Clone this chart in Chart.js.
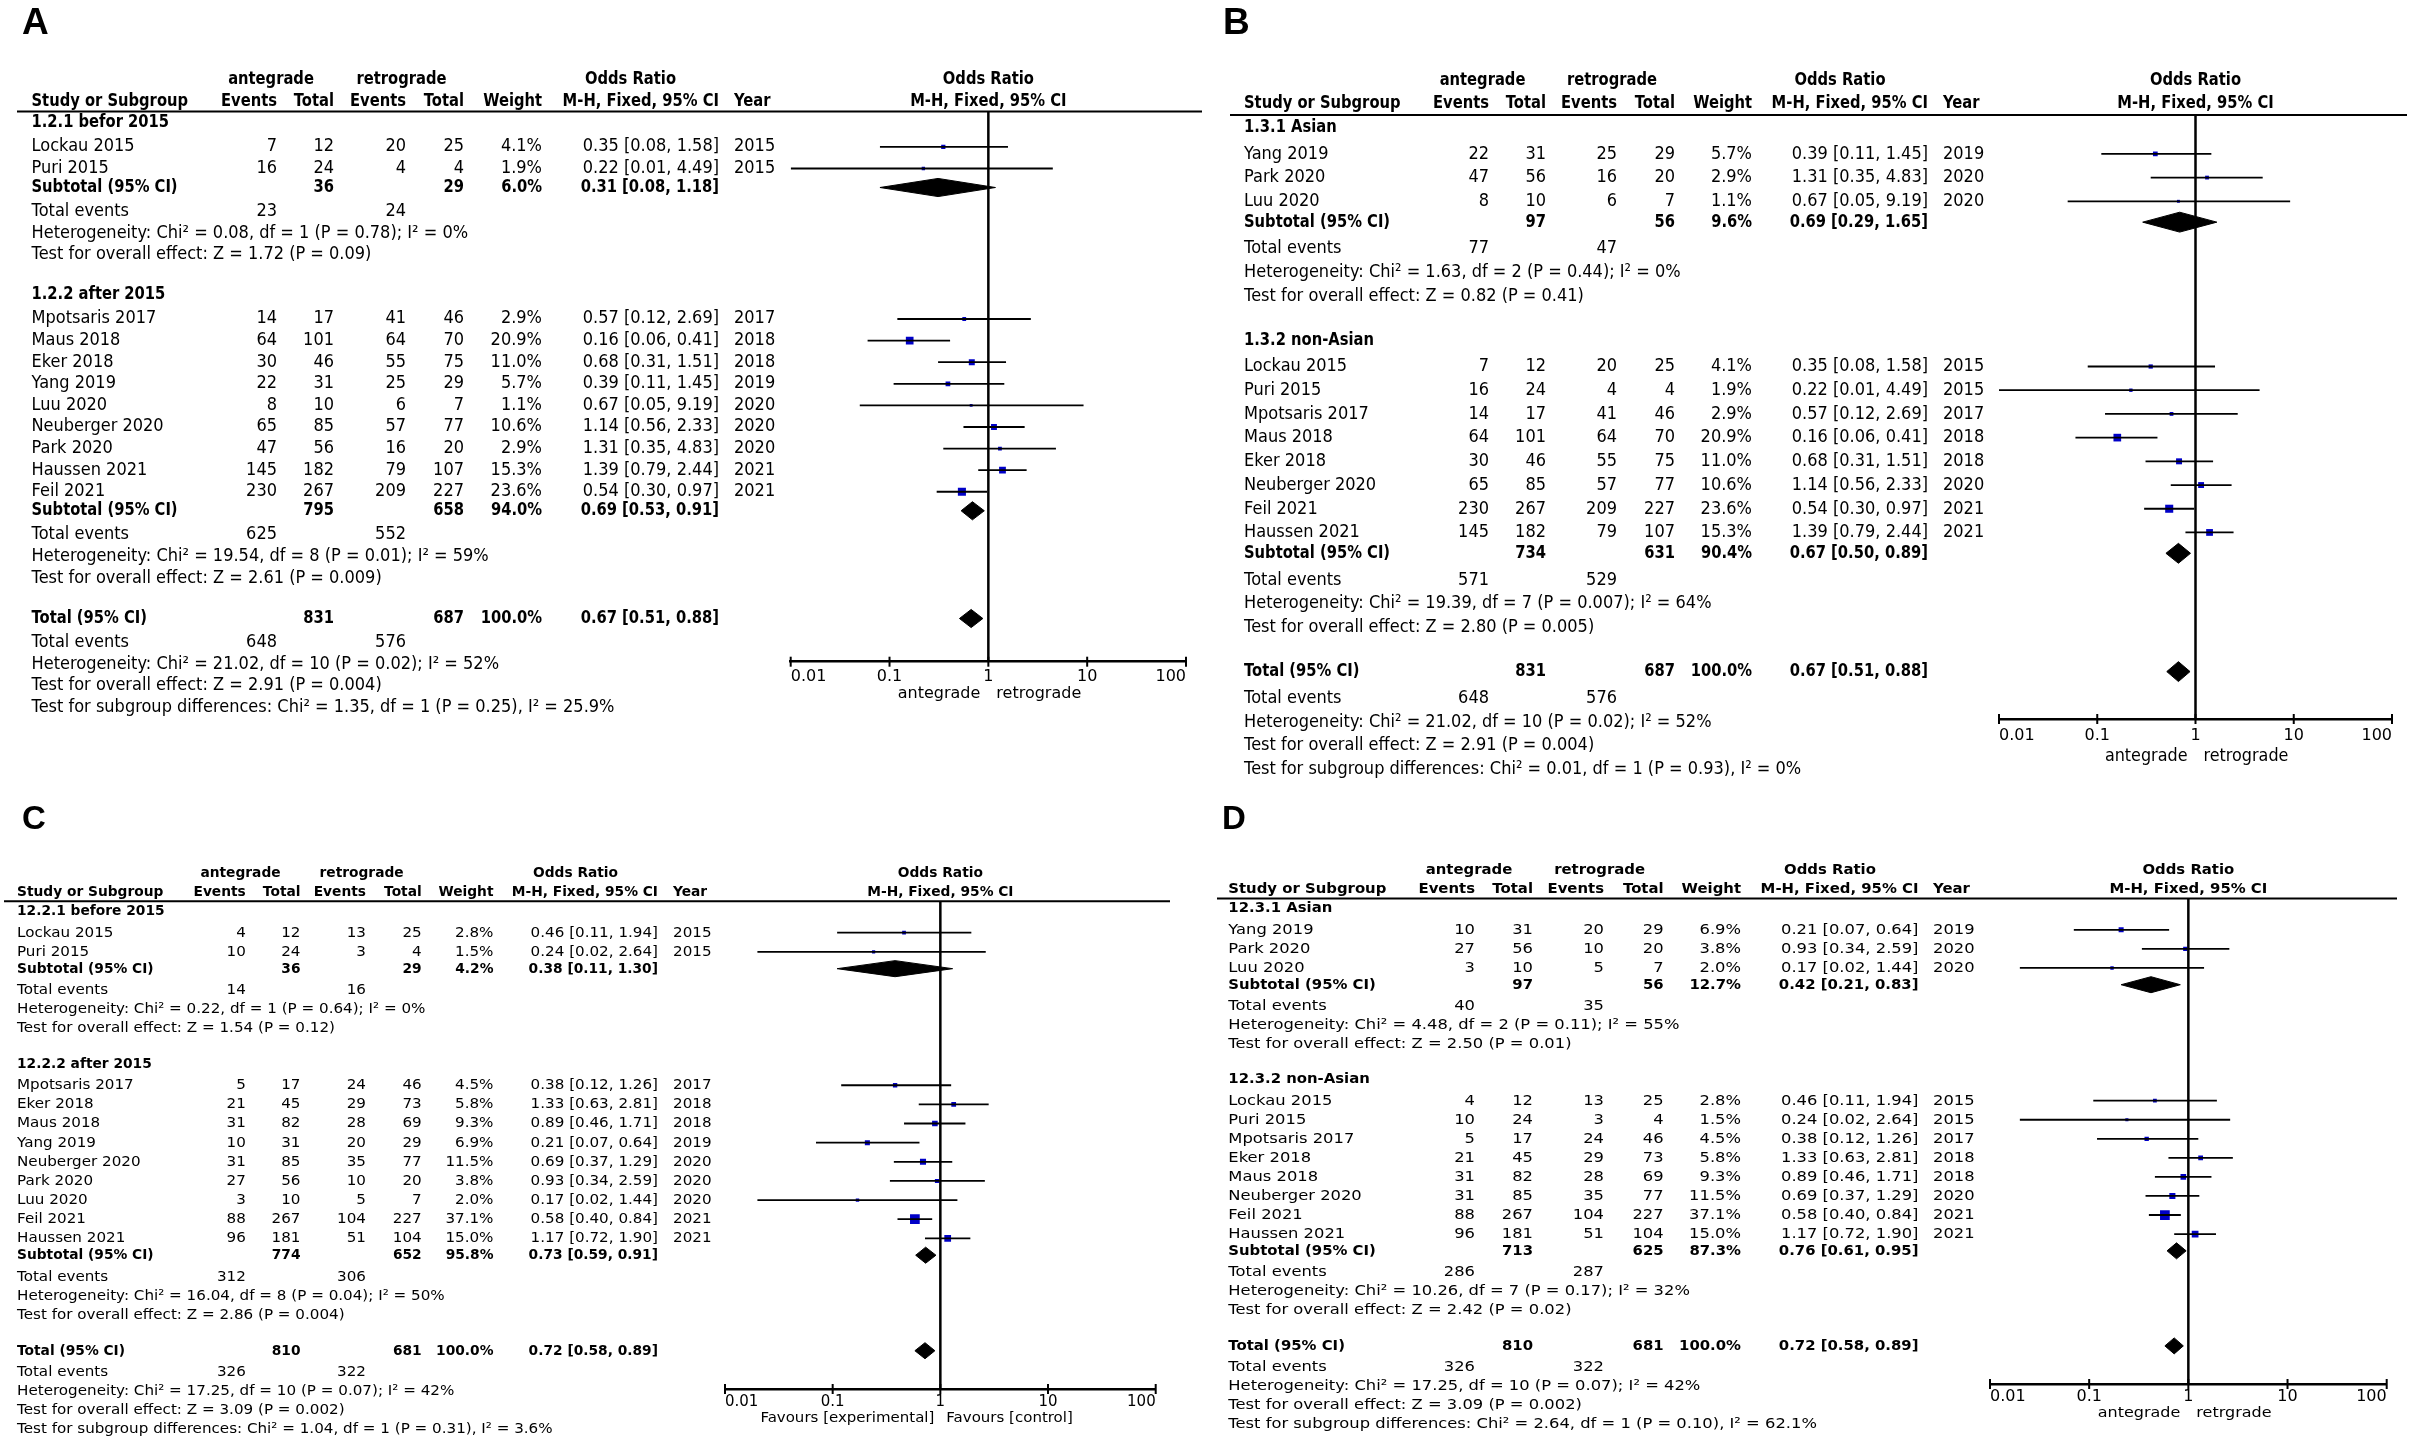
<!DOCTYPE html>
<html>
<head>
<meta charset="utf-8">
<title>Forest plots A-D</title>
<script src="https://cdn.jsdelivr.net/npm/chart.js@4.4.1/dist/chart.umd.min.js"></script>
<style>
  html, body { margin: 0; padding: 0; background: #fff; }
  body { width: 2410px; height: 1441px; position: relative; overflow: hidden; }
  canvas { position: absolute; }
</style>
</head>
<body>
<canvas id="panelA"></canvas>
<canvas id="panelB"></canvas>
<canvas id="panelC"></canvas>
<canvas id="panelD"></canvas>
<script>
// shared axis ticks and column headings
const xTicks = [0.01, 0.1, 1, 10, 100];
const headRow1 = ['antegrade', 'retrograde', 'Odds Ratio'];
const headRow2 = ['Study or Subgroup', 'Events', 'Total', 'Events', 'Total', 'Weight', 'M-H, Fixed, 95% CI', 'Year'];

// ---- A: before / after 2015 ----
const groupsA = ['1.2.1 befor 2015', '1.2.2 after 2015'];
const groupSizeA = [2, 9];
const studiesA = ['Lockau 2015', 'Puri 2015', 'Mpotsaris 2017', 'Maus 2018', 'Eker 2018', 'Yang 2019', 'Luu 2020', 'Neuberger 2020', 'Park 2020', 'Haussen 2021', 'Feil 2021'];
const expEventsA = [7, 16, 14, 64, 30, 22, 8, 65, 47, 145, 230];
const expTotalA = [12, 24, 17, 101, 46, 31, 10, 85, 56, 182, 267];
const ctlEventsA = [20, 4, 41, 64, 55, 25, 6, 57, 16, 79, 209];
const ctlTotalA = [25, 4, 46, 70, 75, 29, 7, 77, 20, 107, 227];
const weightA = [4.1, 1.9, 2.9, 20.9, 11.0, 5.7, 1.1, 10.6, 2.9, 15.3, 23.6];
const orA = [0.35, 0.22, 0.57, 0.16, 0.68, 0.39, 0.67, 1.14, 1.31, 1.39, 0.54];
const lowA = [0.08, 0.01, 0.12, 0.06, 0.31, 0.11, 0.05, 0.56, 0.35, 0.79, 0.30];
const highA = [1.58, 4.49, 2.69, 0.41, 1.51, 1.45, 9.19, 2.33, 4.83, 2.44, 0.97];
const yearA = [2015, 2015, 2017, 2018, 2018, 2019, 2020, 2020, 2020, 2021, 2021];
const subExpTotalA = [36, 795];
const subCtlTotalA = [29, 658];
const subWeightA = [6.0, 94.0];
const subOrA = [0.31, 0.69];
const subLowA = [0.08, 0.53];
const subHighA = [1.18, 0.91];
const subExpEventsA = [23, 625];
const subCtlEventsA = [24, 552];
const subHetA = ['Heterogeneity: Chi² = 0.08, df = 1 (P = 0.78); I² = 0%', 'Heterogeneity: Chi² = 19.54, df = 8 (P = 0.01); I² = 59%'];
const subTestA = ['Test for overall effect: Z = 1.72 (P = 0.09)', 'Test for overall effect: Z = 2.61 (P = 0.009)'];
const totalNA = [831, 687];
const totalWeightA = 100.0;
const totalEstA = [0.67, 0.51, 0.88];
const totalEventsA = [648, 576];
const totalNotesA = ['Heterogeneity: Chi² = 21.02, df = 10 (P = 0.02); I² = 52%', 'Test for overall effect: Z = 2.91 (P = 0.004)', 'Test for subgroup differences: Chi² = 1.35, df = 1 (P = 0.25), I² = 25.9%'];
const favoursA = ['antegrade', 'retrograde'];

// ---- B: Asian / non-Asian ----
const groupsB = ['1.3.1 Asian', '1.3.2 non-Asian'];
const groupSizeB = [3, 8];
const studiesB = ['Yang 2019', 'Park 2020', 'Luu 2020', 'Lockau 2015', 'Puri 2015', 'Mpotsaris 2017', 'Maus 2018', 'Eker 2018', 'Neuberger 2020', 'Feil 2021', 'Haussen 2021'];
const expEventsB = [22, 47, 8, 7, 16, 14, 64, 30, 65, 230, 145];
const expTotalB = [31, 56, 10, 12, 24, 17, 101, 46, 85, 267, 182];
const ctlEventsB = [25, 16, 6, 20, 4, 41, 64, 55, 57, 209, 79];
const ctlTotalB = [29, 20, 7, 25, 4, 46, 70, 75, 77, 227, 107];
const weightB = [5.7, 2.9, 1.1, 4.1, 1.9, 2.9, 20.9, 11.0, 10.6, 23.6, 15.3];
const orB = [0.39, 1.31, 0.67, 0.35, 0.22, 0.57, 0.16, 0.68, 1.14, 0.54, 1.39];
const lowB = [0.11, 0.35, 0.05, 0.08, 0.01, 0.12, 0.06, 0.31, 0.56, 0.30, 0.79];
const highB = [1.45, 4.83, 9.19, 1.58, 4.49, 2.69, 0.41, 1.51, 2.33, 0.97, 2.44];
const yearB = [2019, 2020, 2020, 2015, 2015, 2017, 2018, 2018, 2020, 2021, 2021];
const subExpTotalB = [97, 734];
const subCtlTotalB = [56, 631];
const subWeightB = [9.6, 90.4];
const subOrB = [0.69, 0.67];
const subLowB = [0.29, 0.50];
const subHighB = [1.65, 0.89];
const subExpEventsB = [77, 571];
const subCtlEventsB = [47, 529];
const subHetB = ['Heterogeneity: Chi² = 1.63, df = 2 (P = 0.44); I² = 0%', 'Heterogeneity: Chi² = 19.39, df = 7 (P = 0.007); I² = 64%'];
const subTestB = ['Test for overall effect: Z = 0.82 (P = 0.41)', 'Test for overall effect: Z = 2.80 (P = 0.005)'];
const totalNB = [831, 687];
const totalWeightB = 100.0;
const totalEstB = [0.67, 0.51, 0.88];
const totalEventsB = [648, 576];
const totalNotesB = ['Heterogeneity: Chi² = 21.02, df = 10 (P = 0.02); I² = 52%', 'Test for overall effect: Z = 2.91 (P = 0.004)', 'Test for subgroup differences: Chi² = 0.01, df = 1 (P = 0.93), I² = 0%'];
const favoursB = ['antegrade', 'retrograde'];

// ---- C: before / after 2015 (12.2) ----
const groupsC = ['12.2.1 before 2015', '12.2.2 after 2015'];
const groupSizeC = [2, 9];
const studiesC = ['Lockau 2015', 'Puri 2015', 'Mpotsaris 2017', 'Eker 2018', 'Maus 2018', 'Yang 2019', 'Neuberger 2020', 'Park 2020', 'Luu 2020', 'Feil 2021', 'Haussen 2021'];
const expEventsC = [4, 10, 5, 21, 31, 10, 31, 27, 3, 88, 96];
const expTotalC = [12, 24, 17, 45, 82, 31, 85, 56, 10, 267, 181];
const ctlEventsC = [13, 3, 24, 29, 28, 20, 35, 10, 5, 104, 51];
const ctlTotalC = [25, 4, 46, 73, 69, 29, 77, 20, 7, 227, 104];
const weightC = [2.8, 1.5, 4.5, 5.8, 9.3, 6.9, 11.5, 3.8, 2.0, 37.1, 15.0];
const orC = [0.46, 0.24, 0.38, 1.33, 0.89, 0.21, 0.69, 0.93, 0.17, 0.58, 1.17];
const lowC = [0.11, 0.02, 0.12, 0.63, 0.46, 0.07, 0.37, 0.34, 0.02, 0.40, 0.72];
const highC = [1.94, 2.64, 1.26, 2.81, 1.71, 0.64, 1.29, 2.59, 1.44, 0.84, 1.90];
const yearC = [2015, 2015, 2017, 2018, 2018, 2019, 2020, 2020, 2020, 2021, 2021];
const subExpTotalC = [36, 774];
const subCtlTotalC = [29, 652];
const subWeightC = [4.2, 95.8];
const subOrC = [0.38, 0.73];
const subLowC = [0.11, 0.59];
const subHighC = [1.30, 0.91];
const subExpEventsC = [14, 312];
const subCtlEventsC = [16, 306];
const subHetC = ['Heterogeneity: Chi² = 0.22, df = 1 (P = 0.64); I² = 0%', 'Heterogeneity: Chi² = 16.04, df = 8 (P = 0.04); I² = 50%'];
const subTestC = ['Test for overall effect: Z = 1.54 (P = 0.12)', 'Test for overall effect: Z = 2.86 (P = 0.004)'];
const totalNC = [810, 681];
const totalWeightC = 100.0;
const totalEstC = [0.72, 0.58, 0.89];
const totalEventsC = [326, 322];
const totalNotesC = ['Heterogeneity: Chi² = 17.25, df = 10 (P = 0.07); I² = 42%', 'Test for overall effect: Z = 3.09 (P = 0.002)', 'Test for subgroup differences: Chi² = 1.04, df = 1 (P = 0.31), I² = 3.6%'];
const favoursC = ['Favours [experimental]', 'Favours [control]'];

// ---- D: Asian / non-Asian (12.3) ----
const groupsD = ['12.3.1 Asian', '12.3.2 non-Asian'];
const groupSizeD = [3, 8];
const studiesD = ['Yang 2019', 'Park 2020', 'Luu 2020', 'Lockau 2015', 'Puri 2015', 'Mpotsaris 2017', 'Eker 2018', 'Maus 2018', 'Neuberger 2020', 'Feil 2021', 'Haussen 2021'];
const expEventsD = [10, 27, 3, 4, 10, 5, 21, 31, 31, 88, 96];
const expTotalD = [31, 56, 10, 12, 24, 17, 45, 82, 85, 267, 181];
const ctlEventsD = [20, 10, 5, 13, 3, 24, 29, 28, 35, 104, 51];
const ctlTotalD = [29, 20, 7, 25, 4, 46, 73, 69, 77, 227, 104];
const weightD = [6.9, 3.8, 2.0, 2.8, 1.5, 4.5, 5.8, 9.3, 11.5, 37.1, 15.0];
const orD = [0.21, 0.93, 0.17, 0.46, 0.24, 0.38, 1.33, 0.89, 0.69, 0.58, 1.17];
const lowD = [0.07, 0.34, 0.02, 0.11, 0.02, 0.12, 0.63, 0.46, 0.37, 0.40, 0.72];
const highD = [0.64, 2.59, 1.44, 1.94, 2.64, 1.26, 2.81, 1.71, 1.29, 0.84, 1.90];
const yearD = [2019, 2020, 2020, 2015, 2015, 2017, 2018, 2018, 2020, 2021, 2021];
const subExpTotalD = [97, 713];
const subCtlTotalD = [56, 625];
const subWeightD = [12.7, 87.3];
const subOrD = [0.42, 0.76];
const subLowD = [0.21, 0.61];
const subHighD = [0.83, 0.95];
const subExpEventsD = [40, 286];
const subCtlEventsD = [35, 287];
const subHetD = ['Heterogeneity: Chi² = 4.48, df = 2 (P = 0.11); I² = 55%', 'Heterogeneity: Chi² = 10.26, df = 7 (P = 0.17); I² = 32%'];
const subTestD = ['Test for overall effect: Z = 2.50 (P = 0.01)', 'Test for overall effect: Z = 2.42 (P = 0.02)'];
const totalND = [810, 681];
const totalWeightD = 100.0;
const totalEstD = [0.72, 0.58, 0.89];
const totalEventsD = [326, 322];
const totalNotesD = ['Heterogeneity: Chi² = 17.25, df = 10 (P = 0.07); I² = 42%', 'Test for overall effect: Z = 3.09 (P = 0.002)', 'Test for subgroup differences: Chi² = 2.64, df = 1 (P = 0.10), I² = 62.1%'];
const favoursD = ['antegrade', 'retrgrade'];

// page placement of each panel (pixels), kept apart from the data
const layoutA = { id: 'panelA', letter: 'A', box: [0, 0, 1205, 730], letterAt: [22, 34, 37], headY: 111.5, axisY: 661.7, line: [17, 1202], plot: [790.7, 1186], font: 16.2, sy: 1.04, tickFont: 16, tickPad: 6, titleDy: 32, titleGap: 8, cols: [31.5, 277, 334, 406, 464, 542, 719, 734], heads: [271, 401.5, 630.5] };
const layoutB = { id: 'panelB', letter: 'B', box: [1205, 0, 1205, 790], letterAt: [1223, 34, 37], headY: 115, axisY: 719, line: [1230, 2407], plot: [1999, 2392], font: 16.2, sy: 1.14, tickFont: 16, tickPad: 7.5, titleDy: 37, titleGap: 8, cols: [1244, 1489, 1546, 1617, 1675, 1752, 1928, 1943], heads: [1482.5, 1612, 1840] };
const layoutC = { id: 'panelC', letter: 'C', box: [0, 790, 1205, 651], letterAt: [22, 829, 33], headY: 901.3, axisY: 1389, line: [4, 1170], plot: [725, 1155.7], font: 15.15, sy: 0.985, tickFont: 15, tickPad: 4, titleDy: 29, titleGap: 6, cols: [17, 245.8, 300.5, 366, 421.7, 493.5, 658, 673], heads: [240.5, 361.6, 575.5] };
const layoutD = { id: 'panelD', letter: 'D', box: [1205, 790, 1205, 651], letterAt: [1222, 829, 33], headY: 898.6, axisY: 1384, line: [1217, 2397], plot: [1990, 2386.7], font: 16.35, sy: 0.91, tickFont: 16, tickPad: 3.5, titleDy: 29, titleGap: 8, cols: [1228.3, 1475, 1533, 1604, 1663.6, 1741, 1918.5, 1933], heads: [1469, 1599.6, 1830] };

const AXIS_H = 40;
const BOLD_SQUEEZE = 0.91;
const BLUE = '#0000c8';

// row positions in "row units" below the header rule (RevMan style spacing)
function rowLayout(sizes) {
    const r = { groups: [], studies: [], subs: [], subEvents: [], subHet: [], subTest: [] };
    let y = 0;
    sizes.forEach(function(n, g) {
        y += g === 0 ? 0.52 : 1.85;
        r.groups.push(y);
        for (let i = 0; i < n; i++) {
            y += i === 0 ? 1.12 : 1;
            r.studies.push(y);
        }
        y += 0.88; r.subs.push(y);
        y += 1.12; r.subEvents.push(y);
        y += 1; r.subHet.push(y);
        y += 1; r.subTest.push(y);
    });
    r.total = y + 1.87;
    r.totalEvents = r.total + 1.12;
    r.notes = [r.totalEvents + 1, r.totalEvents + 2, r.totalEvents + 3];
    r.axis = r.total + 2.0;
    return r;
}

function ciText(o, l, h) {
    return o.toFixed(2) + ' [' + l.toFixed(2) + ', ' + h.toFixed(2) + ']';
}

function drawText(ctx, s, x, y, align, bold, size, sy) {
    ctx.save();
    ctx.translate(x, y);
    ctx.scale(bold ? BOLD_SQUEEZE : 1, sy);
    ctx.font = (bold ? 'bold ' : '') + size + 'px "DejaVu Sans"';
    ctx.textAlign = align;
    ctx.textBaseline = 'middle';
    ctx.fillStyle = '#000';
    ctx.fillText(s, 0, 0);
    ctx.restore();
}

function buildDatasets(d, r) {
    const sets = [];
    // line of no effect
    sets.push({ data: [{ x: 1, y: 0 }, { x: 1, y: r.axis }], showLine: true, borderColor: '#000', borderWidth: 2.5, pointRadius: 0 });
    // confidence intervals
    d.or.forEach(function(v, i) {
        sets.push({ data: [{ x: d.low[i], y: r.studies[i] }, { x: d.high[i], y: r.studies[i] }], showLine: true, borderColor: '#000', borderWidth: 1.8, pointRadius: 0 });
    });
    // squares, sized by weight
    sets.push({
        data: d.or.map(function(v, i) { return { x: v, y: r.studies[i] }; }),
        pointStyle: 'rect',
        pointRadius: d.weight.map(function(w) { return (1.5 + 1.35 * Math.sqrt(w)) / Math.SQRT2; }),
        pointBackgroundColor: BLUE, pointBorderWidth: 0
    });
    // diamonds for subtotals and total
    const diamonds = d.subOr.map(function(v, g) { return [v, d.subLow[g], d.subHigh[g], r.subs[g]]; });
    diamonds.push([d.totalEst[0], d.totalEst[1], d.totalEst[2], r.total]);
    diamonds.forEach(function(m) {
        const y = m[3];
        sets.push({
            data: [{ x: m[1], y: y }, { x: m[0], y: y - 0.42 }, { x: m[2], y: y }, { x: m[0], y: y + 0.42 }, { x: m[1], y: y }],
            showLine: true, fill: 'shape', backgroundColor: '#000', borderColor: '#000', borderWidth: 1, pointRadius: 0
        });
    });
    // tick marks crossing the axis line
    sets.push({
        data: xTicks.map(function(v) { return { x: v, y: r.axis }; }),
        pointStyle: 'line', pointRotation: 90, pointRadius: 5,
        pointBorderColor: '#000', pointBorderWidth: 2, clip: false
    });
    return sets;
}

function tablePlugin(L, d, r) {
    return {
        id: 'table' + L.letter,
        afterDraw: function(chart) {
            const ctx = chart.ctx;
            const ys = chart.scales.y;
            const xs = chart.scales.x;
            const ox = L.box[0], oy = L.box[1];
            const c = L.cols.map(function(v) { return v - ox; });
            const h = L.heads.map(function(v) { return v - ox; });
            const Y = function(v) { return ys.getPixelForValue(v); };
            const one = xs.getPixelForValue(1);
            const put = function(s, x, y, align, bold) { drawText(ctx, String(s), x, Y(y), align, bold, L.font, L.sy); };

            // panel letter
            ctx.save();
            ctx.font = 'bold ' + L.letterAt[2] + 'px "Liberation Sans"';
            ctx.fillStyle = '#000';
            ctx.textBaseline = 'alphabetic';
            ctx.fillText(L.letter, L.letterAt[0] - ox, L.letterAt[1] - oy);
            ctx.restore();

            // header rule
            ctx.save();
            ctx.strokeStyle = '#000';
            ctx.lineWidth = 2;
            ctx.beginPath();
            ctx.moveTo(L.line[0] - ox, Y(0));
            ctx.lineTo(L.line[1] - ox, Y(0));
            ctx.stroke();
            ctx.restore();

            // column headings
            put(headRow1[0], h[0], -1.47, 'center', true);
            put(headRow1[1], h[1], -1.47, 'center', true);
            put(headRow1[2], h[2], -1.47, 'center', true);
            put(headRow1[2], one, -1.47, 'center', true);
            put(headRow2[0], c[0], -0.48, 'left', true);
            for (let k = 1; k <= 6; k++) put(headRow2[k], c[k], -0.48, 'right', true);
            put(headRow2[7], c[7], -0.48, 'left', true);
            put(headRow2[6], one, -0.48, 'center', true);

            // subgroups
            let s = 0;
            d.sizes.forEach(function(n, g) {
                put(d.groups[g], c[0], r.groups[g], 'left', true);
                for (let i = s; i < s + n; i++) {
                    const y = r.studies[i];
                    put(d.studies[i], c[0], y, 'left', false);
                    put(d.expEvents[i], c[1], y, 'right', false);
                    put(d.expTotal[i], c[2], y, 'right', false);
                    put(d.ctlEvents[i], c[3], y, 'right', false);
                    put(d.ctlTotal[i], c[4], y, 'right', false);
                    put(d.weight[i].toFixed(1) + '%', c[5], y, 'right', false);
                    put(ciText(d.or[i], d.low[i], d.high[i]), c[6], y, 'right', false);
                    put(d.year[i], c[7], y, 'left', false);
                }
                s += n;
                put('Subtotal (95% CI)', c[0], r.subs[g], 'left', true);
                put(d.subExpTotal[g], c[2], r.subs[g], 'right', true);
                put(d.subCtlTotal[g], c[4], r.subs[g], 'right', true);
                put(d.subWeight[g].toFixed(1) + '%', c[5], r.subs[g], 'right', true);
                put(ciText(d.subOr[g], d.subLow[g], d.subHigh[g]), c[6], r.subs[g], 'right', true);
                put('Total events', c[0], r.subEvents[g], 'left', false);
                put(d.subExpEvents[g], c[1], r.subEvents[g], 'right', false);
                put(d.subCtlEvents[g], c[3], r.subEvents[g], 'right', false);
                put(d.subHet[g], c[0], r.subHet[g], 'left', false);
                put(d.subTest[g], c[0], r.subTest[g], 'left', false);
            });

            // overall
            put('Total (95% CI)', c[0], r.total, 'left', true);
            put(d.totalN[0], c[2], r.total, 'right', true);
            put(d.totalN[1], c[4], r.total, 'right', true);
            put(d.totalWeight.toFixed(1) + '%', c[5], r.total, 'right', true);
            put(ciText(d.totalEst[0], d.totalEst[1], d.totalEst[2]), c[6], r.total, 'right', true);
            put('Total events', c[0], r.totalEvents, 'left', false);
            put(d.totalEvents[0], c[1], r.totalEvents, 'right', false);
            put(d.totalEvents[1], c[3], r.totalEvents, 'right', false);
            d.totalNotes.forEach(function(t, k) { put(t, c[0], r.notes[k], 'left', false); });

            // favours labels under the axis
            const ty = L.axisY - oy + L.titleDy;
            drawText(ctx, d.favours[0], one - L.titleGap, ty, 'right', false, L.tickFont, L.sy);
            drawText(ctx, d.favours[1], one + L.titleGap, ty, 'left', false, L.tickFont, L.sy);
        }
    };
}

function forestPanel(L, d) {
    const canvas = document.getElementById(L.id);
    const bx = L.box[0], by = L.box[1], bw = L.box[2], bh = L.box[3];
    canvas.width = bw;
    canvas.height = bh;
    canvas.style.left = bx + 'px';
    canvas.style.top = by + 'px';
    canvas.style.width = bw + 'px';
    canvas.style.height = bh + 'px';
    const r = rowLayout(d.sizes);

    return new Chart(canvas, {
        type: 'scatter',
        data: { datasets: buildDatasets(d, r) },
        options: {
            responsive: false,
            animation: false,
            events: [],
            layout: {
                autoPadding: false,
                padding: { left: L.plot[0] - bx, right: bx + bw - L.plot[1], top: L.headY - by, bottom: by + bh - L.axisY - AXIS_H }
            },
            plugins: { legend: { display: false }, tooltip: { enabled: false } },
            scales: {
                x: {
                    type: 'logarithmic',
                    min: 0.01,
                    max: 100,
                    afterBuildTicks: function(scale) { scale.ticks = xTicks.map(function(v) { return { value: v }; }); },
                    afterFit: function(scale) { scale.height = AXIS_H; scale.paddingLeft = 0; scale.paddingRight = 0; },
                    grid: { drawOnChartArea: false, drawTicks: false },
                    border: { display: true, color: '#000', width: 2.5 },
                    ticks: {
                        align: 'inner', autoSkip: false, maxRotation: 0, padding: L.tickPad, color: '#000',
                        font: { family: 'DejaVu Sans', size: L.tickFont },
                        callback: function(v) { return String(v); }
                    }
                },
                y: { type: 'linear', display: false, reverse: true, min: 0, max: r.axis }
            }
        },
        plugins: [tablePlugin(L, d, r)]
    });
}

function bundle(groups, sizes, studies, expEvents, expTotal, ctlEvents, ctlTotal, weight, or, low, high, year,
                subExpTotal, subCtlTotal, subWeight, subOr, subLow, subHigh, subExpEvents, subCtlEvents, subHet, subTest,
                totalN, totalWeight, totalEst, totalEvents, totalNotes, favours) {
    return { groups, sizes, studies, expEvents, expTotal, ctlEvents, ctlTotal, weight, or, low, high, year,
             subExpTotal, subCtlTotal, subWeight, subOr, subLow, subHigh, subExpEvents, subCtlEvents, subHet, subTest,
             totalN, totalWeight, totalEst, totalEvents, totalNotes, favours };
}

forestPanel(layoutA, bundle(groupsA, groupSizeA, studiesA, expEventsA, expTotalA, ctlEventsA, ctlTotalA, weightA, orA, lowA, highA, yearA,
    subExpTotalA, subCtlTotalA, subWeightA, subOrA, subLowA, subHighA, subExpEventsA, subCtlEventsA, subHetA, subTestA,
    totalNA, totalWeightA, totalEstA, totalEventsA, totalNotesA, favoursA));
forestPanel(layoutB, bundle(groupsB, groupSizeB, studiesB, expEventsB, expTotalB, ctlEventsB, ctlTotalB, weightB, orB, lowB, highB, yearB,
    subExpTotalB, subCtlTotalB, subWeightB, subOrB, subLowB, subHighB, subExpEventsB, subCtlEventsB, subHetB, subTestB,
    totalNB, totalWeightB, totalEstB, totalEventsB, totalNotesB, favoursB));
forestPanel(layoutC, bundle(groupsC, groupSizeC, studiesC, expEventsC, expTotalC, ctlEventsC, ctlTotalC, weightC, orC, lowC, highC, yearC,
    subExpTotalC, subCtlTotalC, subWeightC, subOrC, subLowC, subHighC, subExpEventsC, subCtlEventsC, subHetC, subTestC,
    totalNC, totalWeightC, totalEstC, totalEventsC, totalNotesC, favoursC));
forestPanel(layoutD, bundle(groupsD, groupSizeD, studiesD, expEventsD, expTotalD, ctlEventsD, ctlTotalD, weightD, orD, lowD, highD, yearD,
    subExpTotalD, subCtlTotalD, subWeightD, subOrD, subLowD, subHighD, subExpEventsD, subCtlEventsD, subHetD, subTestD,
    totalND, totalWeightD, totalEstD, totalEventsD, totalNotesD, favoursD));
</script>
</body>
</html>
